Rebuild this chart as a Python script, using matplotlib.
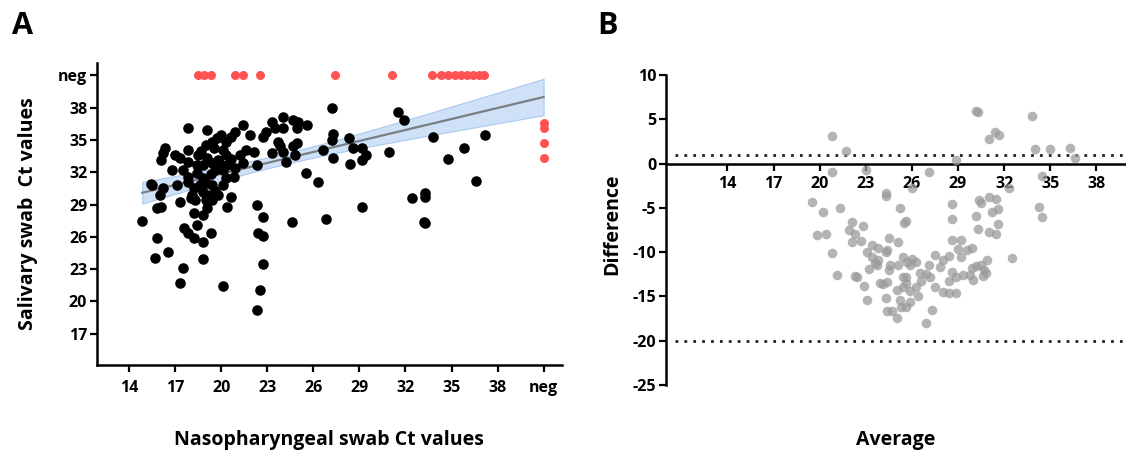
import numpy as np
import matplotlib.pyplot as plt

# chart data, "neg" is plotted at position 41
NEG = 41

# panel A: nasopharyngeal vs salivary Ct values (both positive)
np_ct = [17.8, 19.1, 21.4, 20.9, 20.6, 20.3, 19.4, 19.0, 19.5, 20.1,
         16.3, 16.2, 16.1, 17.0, 17.3, 17.8, 17.8, 18.5, 19.1, 18.8,
         19.4, 19.8, 20.3, 20.4, 16.8, 17.5, 18.4, 17.8, 18.4, 18.8,
         19.3, 19.6, 20.1, 20.9, 21.4, 20.3, 20.8, 15.5, 17.1, 17.8,
         18.6, 19.0, 19.4, 20.1, 16.0, 18.1, 18.8, 19.1, 19.8, 20.6,
         15.8, 16.1, 17.3, 18.0, 18.3, 19.0, 19.4, 19.1, 20.4, 14.85,
         18.2, 18.8, 18.4, 17.6, 17.8, 18.2, 18.8, 19.3, 15.8, 16.5,
         15.7, 18.8, 17.5, 17.3, 20.1, 22.3, 22.5, 22.7, 22.4, 22.7,
         22.7, 22.3, 24.6, 26.8, 29.2, 27.2, 24.0, 23.3, 23.5, 24.0,
         24.7, 25.0, 24.9, 25.6, 21.9, 22.7, 22.9, 23.7, 23.8, 24.9,
         24.7, 21.6, 22.1, 24.0, 23.3, 24.2, 24.8, 22.3, 26.6, 27.3,
         25.5, 26.3, 27.3, 27.2, 28.3, 28.6, 29.2, 29.4, 29.2, 28.4,
         31.5, 31.9, 33.8, 30.9, 34.8, 35.8, 37.2, 36.6, 32.4, 33.3,
         33.3, 33.2, 33.3, 19.7, 20.0, 18.7, 19.9, 18.2, 19.6, 20.6,
         21.2, 16.2, 15.4]
sal_ct = [36.1, 35.9, 36.4, 35.7, 35.3, 34.8, 34.8, 34.5, 34.3, 34.1,
          34.3, 33.8, 33.1, 33.6, 33.3, 34.1, 33.0, 33.6, 33.3, 32.7,
          32.9, 33.1, 33.6, 32.7, 32.2, 32.2, 32.7, 31.6, 31.9, 31.5,
          31.8, 32.2, 32.2, 32.4, 32.9, 31.5, 31.6, 30.8, 30.8, 31.1,
          30.8, 31.0, 30.8, 30.8, 29.9, 29.9, 30.2, 29.9, 29.9, 29.7,
          28.7, 28.8, 29.2, 29.6, 29.4, 29.4, 29.4, 28.7, 28.8, 27.5,
          28.2, 28.0, 27.1, 26.8, 26.4, 25.9, 25.5, 26.4, 25.9, 24.6,
          24.0, 23.9, 23.1, 21.7, 21.4, 19.2, 21.1, 23.5, 26.4, 26.1,
          27.8, 29.0, 27.4, 27.7, 28.8, 38.0, 37.1, 36.7, 36.1, 36.1,
          36.9, 36.7, 36.1, 36.4, 35.5, 35.3, 35.7, 34.8, 34.4, 34.7,
          34.4, 34.1, 33.9, 33.9, 33.8, 33.0, 33.6, 32.7, 34.1, 33.3,
          31.9, 31.1, 35.6, 35.0, 35.2, 34.3, 34.3, 33.6, 33.1, 32.8,
          37.6, 36.9, 35.3, 33.9, 33.2, 34.3, 35.5, 31.2, 29.6, 30.1,
          29.7, 27.4, 27.3, 35.2, 35.5, 34.0, 32.8, 30.5, 30.3, 33.2,
          33.6, 30.5, 30.9]

# positive on nasopharyngeal swab, negative on saliva
np_ct_sal_neg = [18.5, 18.9, 19.3, 20.9, 21.4, 22.5, 27.4, 31.1, 33.7, 34.3,
                 34.8, 35.2, 35.6, 36.0, 36.4, 36.8, 37.1]
# negative on nasopharyngeal swab, positive on saliva
sal_ct_np_neg = [36.6, 36.1, 34.7, 33.3]

# linear fit
fit_intercept = 25.05
fit_slope = 0.34
band_min = 0.5
band_center = 24.0
band_growth = 0.095

# panel B: average vs difference
avg = [20.8, 21.7, 20.8, 23.0, 19.5, 20.2, 21.3, 22.1, 22.8, 24.3, 24.3,
       19.8, 20.4, 20.8, 21.1, 21.9, 22.3, 22.1, 22.7, 22.3, 22.4, 22.9,
       23.1, 23.1, 23.4, 23.2, 23.6, 23.8, 24.3, 23.9, 24.3, 24.4,
       25.2, 25.5, 23.4, 23.8, 24.4, 24.5, 25.1, 24.6, 24.5, 25.1, 25.4,
       23.7, 24.1, 24.4, 25.0, 25.2, 25.3, 24.7, 25.0, 25.4, 25.6, 25.7,
       27.1, 28.6, 28.6, 25.6, 30.4, 30.5, 31.0, 31.5, 31.2, 31.6, 30.2,
       30.3, 31.0, 31.5, 31.6, 32.5,
       28.6, 29.2, 29.9, 29.6, 29.0, 29.2, 28.4, 27.5, 27.8, 28.0, 27.1,
       28.6, 28.4, 28.9, 29.3,
       29.9, 30.2, 30.5, 30.7, 30.9, 29.8, 30.0, 30.6, 30.8,
       28.0, 28.4, 28.9, 27.5, 26.5, 26.9, 27.2, 26.6, 26.0, 26.3, 25.9,
       25.6, 25.4, 25.9, 26.3, 26.4, 27.3, 26.9, 25.9, 25.6,
       30.2, 30.3, 31.0, 31.4, 31.7, 33.8, 34.0, 35.0, 36.3, 36.6, 28.9,
       26.0, 32.3, 34.5, 34.3, 34.5]
diff = [3.1, 1.4, -1.0, -0.7, -4.3, -5.5, -5.0, -6.6, -7.0, -3.7, -3.3,
        -8.1, -8.0, -10.1, -12.6, -7.5, -8.0, -8.9, -8.7, -12.7, -12.8, -13.8,
        -15.4, -10.0, -9.2, -11.9, -11.2, -10.9, -10.0, -13.5, -15.2, -16.7,
        -5.0, -6.7, -10.5, -9.5, -9.8, -8.4, -8.9, -11.5, -12.0, -11.5, -10.6,
        -11.4, -13.6, -13.4, -14.3, -15.4, -16.2, -16.7, -17.4, -12.8, -13.5, -11.1,
        -0.9, -4.6, -6.3, -6.5, -4.1, -4.4, -3.8, -4.0, -5.5, -5.1, -5.9,
        -7.4, -7.7, -8.0, -6.8, -10.7,
        -8.6, -8.6, -9.5, -9.8, -9.7, -10.6, -10.4, -10.3, -11.7, -10.9, -11.5,
        -12.2, -13.3, -12.8, -12.6,
        -11.8, -11.6, -11.4, -12.0, -10.9, -12.6, -13.2, -12.7, -12.3,
        -14.5, -14.6, -14.6, -13.9, -12.3, -12.5, -12.8, -13.3, -10.8, -11.1, -11.5,
        -12.8, -13.9, -14.4, -13.9, -15.0, -16.5, -18.0, -15.6, -16.2,
        5.9, 5.8, 2.8, 3.6, 3.2, 5.4, 1.7, 1.7, 1.8, 0.6, 0.45,
        -2.8, -2.8, -1.4, -4.9, -6.0]
upper_loa = 1.0
lower_loa = -20.0

a_ticks = [14, 17, 20, 23, 26, 29, 32, 35, 38, NEG]
a_ticklabels = ['14', '17', '20', '23', '26', '29', '32', '35', '38', 'neg']
a_yticks = [17, 20, 23, 26, 29, 32, 35, 38, NEG]
a_yticklabels = ['17', '20', '23', '26', '29', '32', '35', '38', 'neg']
b_xticks = [14, 17, 20, 23, 26, 29, 32, 35, 38]
b_yticks = [-25, -20, -15, -10, -5, 0, 5, 10]

plt.rcParams['font.family'] = ['Open Sans', 'DejaVu Sans']
plt.rcParams['font.weight'] = 'bold'

fig = plt.figure(figsize=(11.26, 4.54), dpi=100)

def style_axes(ax):
    for s in ['top', 'right']:
        ax.spines[s].set_visible(False)
    for s in ['left', 'bottom']:
        ax.spines[s].set_linewidth(1.8)
    ax.tick_params(width=1.6, length=5, labelsize=11.5, pad=2)
    for lab in ax.get_xticklabels() + ax.get_yticklabels():
        lab.set_fontweight('bold')

# ---- panel A ----
axA = fig.add_axes([97 / 1126, 1 - 365 / 454, 465 / 1126, 302 / 454])
xfit = np.linspace(min(np_ct), NEG, 60)
yfit = fit_intercept + fit_slope * xfit
half = np.sqrt(band_min ** 2 + (band_growth * (xfit - band_center)) ** 2)
axA.fill_between(xfit, yfit - half, yfit + half, color='#cfe1f6',
                 edgecolor='#a9c9ee', linewidth=0.8, zorder=1)
axA.plot(xfit, yfit, color='#7a7f86', lw=1.6, zorder=2)
axA.scatter(np_ct, sal_ct, s=58, color='black', lw=0, zorder=3)
axA.scatter(np_ct_sal_neg, [NEG] * len(np_ct_sal_neg), s=42,
            color='#ff5252', lw=0, zorder=3)
axA.scatter([NEG] * len(sal_ct_np_neg), sal_ct_np_neg, s=42,
            color='#ff5252', lw=0, zorder=3)
axA.set_xlim(11.9, 42.2)
axA.set_ylim(14.1, 42.15)
axA.set_xticks(a_ticks)
axA.set_xticklabels(a_ticklabels)
axA.set_yticks(a_yticks)
axA.set_yticklabels(a_yticklabels)
style_axes(axA)
axA.tick_params(axis='x', pad=6)
axA.set_ylabel('Salivary swab  Ct values', fontsize=14, fontweight='bold')
axA.yaxis.set_label_coords(-0.127, 0.5)

fig.text(329 / 1126, 1 - 440 / 454, 'Nasopharyngeal swab Ct values',
         ha='center', va='center', fontsize=14, fontweight='bold')
fig.text(22 / 1126, 1 - 26 / 454, 'A', ha='center', va='center',
         fontsize=22, fontweight='bold')

# ---- panel B ----
axB = fig.add_axes([666 / 1126, 1 - 385 / 454, 461 / 1126, 310 / 454])
axB.scatter(avg, diff, s=48, color='#9b9b9b', alpha=0.75, lw=0, zorder=3)
axB.axhline(upper_loa, xmin=0.02, color='#222222', lw=2.0,
            linestyle=(0, (1, 2.2)), zorder=2)
axB.axhline(lower_loa, xmin=0.02, color='#222222', lw=2.0,
            linestyle=(0, (1, 2.2)), zorder=2)
axB.set_xlim(10, 40)
axB.set_ylim(-25, 10)
axB.spines['bottom'].set_position(('data', 0))
axB.set_xticks(b_xticks)
axB.set_yticks(b_yticks)
axB.set_yticklabels([str(t) for t in b_yticks])
style_axes(axB)
axB.tick_params(axis='x', pad=4)
axB.set_ylabel('Difference', fontsize=14, fontweight='bold')
axB.yaxis.set_label_coords(-0.095, 0.519)

fig.text(896 / 1126, 1 - 440 / 454, 'Average', ha='center', va='center',
         fontsize=14, fontweight='bold')
fig.text(608 / 1126, 1 - 26 / 454, 'B', ha='center', va='center',
         fontsize=22, fontweight='bold')

fig.savefig('out.png', dpi=100)
